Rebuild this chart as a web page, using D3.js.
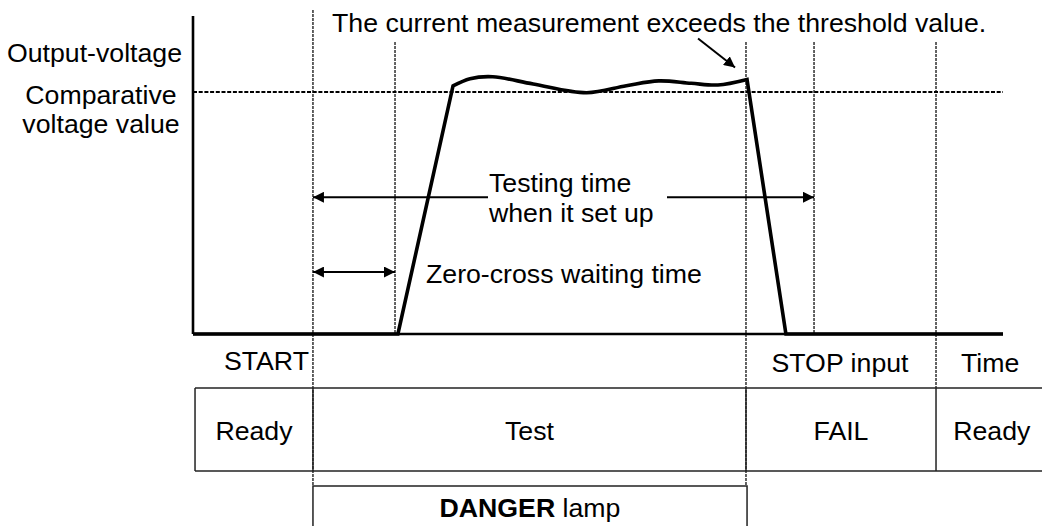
<!DOCTYPE html>
<html><head><meta charset="utf-8">
<script src="https://cdn.jsdelivr.net/npm/d3@7"></script>
<style>
html,body{margin:0;padding:0;background:#fff;}
svg text{font-family:Arial,"Liberation Sans",sans-serif;font-size:26.7px;fill:#000;}
</style></head>
<body><svg id="c" width="1042" height="526"></svg>
<script>
// ---- data (time units 0..100, voltage units: comparative value = 100) ----
const waveT = [0, 25.3, 32.1, 34.2, 37.0, 42.0, 48.6, 53.5, 57.5, 61.5, 64.8, 68.4, 73.2, 100];
const waveV = [0, 0, 102.5, 105.5, 106.3, 103.3, 99.7, 102.6, 104.6, 103.6, 102.9, 105.2, 0, 0];
const comparativeV = 100;
const axisTopV = 131.4;
const markerT = [14.81, 24.94, 68.27, 76.67, 91.73];
const stateNames = ["Ready", "Test", "FAIL", "Ready"];
const stateBounds = [0.25, 14.81, 68.27, 91.73, 105.5];
const eventLabels = ["START", "STOP input", "Time"];
const testingArrowT = [14.81, 76.67];
const testingArrowV = 56.5;
const zeroCrossArrowT = [14.81, 24.94];
const zeroCrossArrowV = 25.6;
const dangerT = [14.81, 68.4];
const leftLabels = ["Output-voltage", "Comparative", "voltage value"];
const noteText = "The current measurement exceeds the threshold value.";
const testingLabel = ["Testing time", "when it set up"];
const zeroCrossLabel = "Zero-cross waiting time";

// ---- scales ----
const x = d3.scaleLinear().domain([0, 100]).range([193, 1003]);
const y = d3.scaleLinear().domain([0, 100]).range([334, 92]);

const svg = d3.select("#c");
const defs = svg.append("defs");
defs.append("marker").attr("id", "ah").attr("markerUnits", "userSpaceOnUse")
  .attr("viewBox", "0 0 10 10").attr("refX", 10).attr("refY", 5)
  .attr("markerWidth", 11).attr("markerHeight", 11).attr("orient", "auto-start-reverse")
  .append("path").attr("d", "M0,0 L10,5 L0,10 z").attr("fill", "#000");

// layout
const tableTop = 388, tableBot = 471, dangerTop = 486;

// vertical dotted markers
const markerTops = [10, 42, 42, 42, 42];
const markerBots = [dangerTop, y(0), dangerTop, y(0), tableTop];
svg.append("g").selectAll("line").data(markerT).join("line")
  .attr("x1", d => x(d)).attr("x2", d => x(d))
  .attr("y1", (d, i) => markerTops[i]).attr("y2", (d, i) => markerBots[i])
  .attr("stroke", "#111").attr("stroke-width", 1.3).attr("stroke-dasharray", "3,1");

// comparative dashed line
svg.append("line").attr("x1", x(0)).attr("x2", x(100))
  .attr("y1", y(comparativeV)).attr("y2", y(comparativeV))
  .attr("stroke", "#000").attr("stroke-width", 2).attr("stroke-dasharray", "4,1.7");

// axes
svg.append("line").attr("x1", x(0)).attr("x2", x(0)).attr("y1", y(axisTopV)).attr("y2", y(0))
  .attr("stroke", "#000").attr("stroke-width", 2.6);
svg.append("line").attr("x1", x(0)).attr("x2", x(100)).attr("y1", y(0)).attr("y2", y(0))
  .attr("stroke", "#000").attr("stroke-width", 2.4);

// waveform
const pts = waveT.map((t, i) => [x(t), y(waveV[i])]);
const lin = d3.line();
const cur = d3.line().curve(d3.curveCatmullRom.alpha(0.5));
const p1 = lin(pts.slice(0, 3));
const p2 = cur(pts.slice(2, 12)).replace(/^M/, "L");
const p3 = lin(pts.slice(11)).replace(/^M/, "L");
svg.append("path").attr("d", p1 + p2 + p3).attr("fill", "none")
  .attr("stroke", "#000").attr("stroke-width", 3.6).attr("stroke-linejoin", "miter");

// testing-time arrow (two segments around label)
const gapL = 488, gapR = 667;
svg.append("line").attr("x1", gapL).attr("x2", x(testingArrowT[0]))
  .attr("y1", y(testingArrowV)).attr("y2", y(testingArrowV))
  .attr("stroke", "#000").attr("stroke-width", 2).attr("marker-end", "url(#ah)");
svg.append("line").attr("x1", gapR).attr("x2", x(testingArrowT[1]))
  .attr("y1", y(testingArrowV)).attr("y2", y(testingArrowV))
  .attr("stroke", "#000").attr("stroke-width", 2).attr("marker-end", "url(#ah)");
// zero-cross double arrow
svg.append("line").attr("x1", x(zeroCrossArrowT[0])).attr("x2", x(zeroCrossArrowT[1]))
  .attr("y1", y(zeroCrossArrowV)).attr("y2", y(zeroCrossArrowV))
  .attr("stroke", "#000").attr("stroke-width", 2)
  .attr("marker-start", "url(#ah)").attr("marker-end", "url(#ah)");

// annotation arrow pointing to end of plateau
const endPt = pts[11];
svg.append("line").attr("x1", endPt[0] - 49).attr("y1", endPt[1] - 41)
  .attr("x2", endPt[0] - 12).attr("y2", endPt[1] - 12)
  .attr("stroke", "#000").attr("stroke-width", 2).attr("marker-end", "url(#ah)");

// texts
svg.append("text").attr("x", 332).attr("y", 32).text(noteText);
svg.append("text").attr("x", 182).attr("y", 62).attr("text-anchor", "end").text(leftLabels[0]);
svg.append("text").attr("x", 101).attr("y", 104).attr("text-anchor", "middle").text(leftLabels[1]);
svg.append("text").attr("x", 101).attr("y", 133).attr("text-anchor", "middle").text(leftLabels[2]);
svg.append("text").attr("x", gapL + 1).attr("y", 192).text(testingLabel[0]);
svg.append("text").attr("x", gapL + 1).attr("y", 222).text(testingLabel[1]);
svg.append("text").attr("x", 426).attr("y", 283).text(zeroCrossLabel);

svg.append("text").attr("x", x(markerT[0]) - 4).attr("y", 370).attr("text-anchor", "end").text(eventLabels[0]);
svg.append("text").attr("x", (x(markerT[2]) + x(markerT[4])) / 2 - 1).attr("y", 372).attr("text-anchor", "middle").text(eventLabels[1]);
svg.append("text").attr("x", x(markerT[4]) + 25).attr("y", 372).text(eventLabels[2]);

// state table
const tg = svg.append("g");
tg.append("line").attr("x1", x(stateBounds[0])).attr("x2", x(stateBounds[4]))
  .attr("y1", tableTop).attr("y2", tableTop).attr("stroke", "#222").attr("stroke-width", 1.5);
tg.append("line").attr("x1", x(stateBounds[0])).attr("x2", x(stateBounds[4]))
  .attr("y1", tableBot).attr("y2", tableBot).attr("stroke", "#222").attr("stroke-width", 1.5);
tg.selectAll("line.v").data(stateBounds.slice(0, 4)).join("line").attr("class", "v")
  .attr("x1", d => x(d)).attr("x2", d => x(d)).attr("y1", tableTop).attr("y2", tableBot)
  .attr("stroke", "#222").attr("stroke-width", 1.5);
tg.selectAll("text").data(stateNames).join("text")
  .attr("x", (d, i) => (x(stateBounds[i]) + x(stateBounds[i + 1])) / 2)
  .attr("y", 440).attr("text-anchor", "middle").text(d => d);

// DANGER lamp box
svg.append("rect").attr("x", x(dangerT[0])).attr("y", dangerTop)
  .attr("width", x(dangerT[1]) - x(dangerT[0])).attr("height", 80)
  .attr("fill", "none").attr("stroke", "#222").attr("stroke-width", 1.5);
const dt = svg.append("text").attr("x", (x(dangerT[0]) + x(dangerT[1])) / 2).attr("y", 517)
  .attr("text-anchor", "middle");
dt.append("tspan").attr("font-weight", "bold").text("DANGER");
dt.append("tspan").text(" lamp");
</script></body></html>
